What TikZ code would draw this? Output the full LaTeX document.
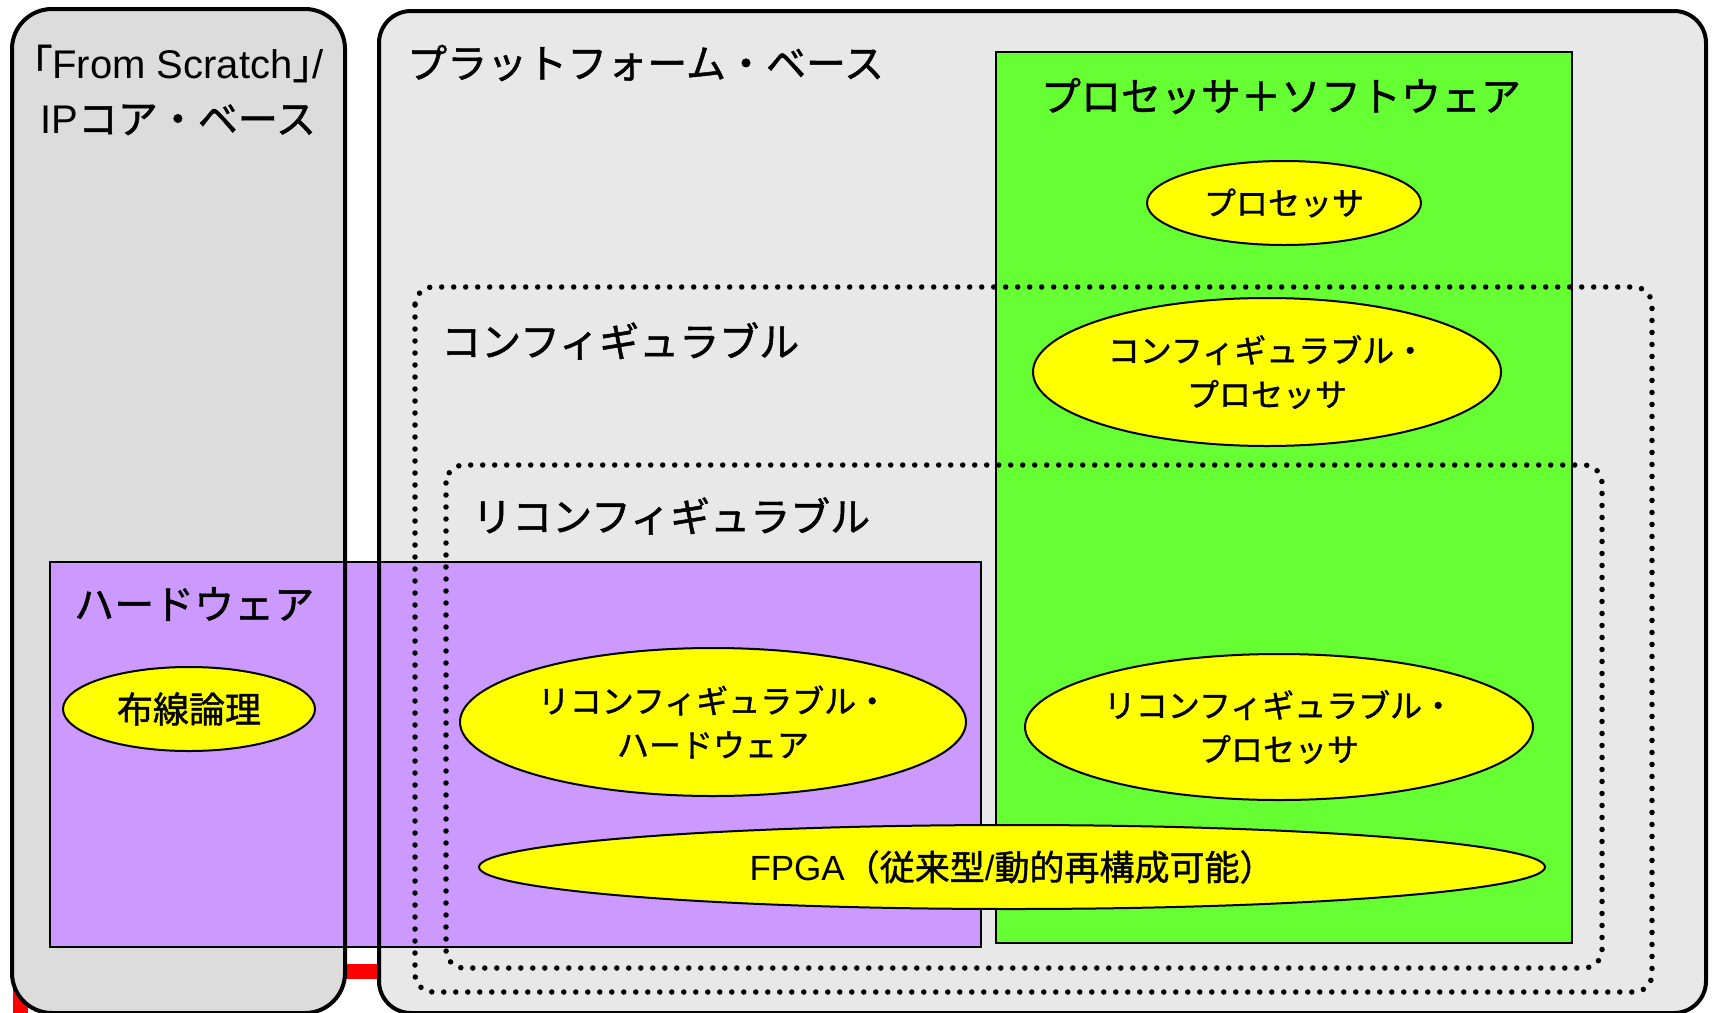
\documentclass[tikz,border=0pt]{standalone}
\usepackage{fontspec}
\setmainfont{Noto Sans CJK JP}[FakeBold=1.2]
\newfontfamily\lat{Liberation Sans}
\usetikzlibrary{shapes.geometric}
\definecolor{gl}{HTML}{DCDCDC}
\definecolor{gr}{HTML}{E8E8E8}
\definecolor{pu}{HTML}{CC99FF}
\definecolor{gn}{HTML}{66FF33}
\definecolor{ye}{HTML}{FFFF00}
\begin{document}
\begin{tikzpicture}[x=1pt,y=-1pt,
  big/.style={font=\fontsize{40}{55}\selectfont, inner sep=0pt},
  ell/.style={ellipse, draw=black, line width=2pt, fill=ye, inner sep=0pt,
    font=\fontsize{32}{44}\selectfont, align=center},
  dots/.style={line width=5.5pt, line cap=round, dash pattern=on 0pt off 12pt, rounded corners=18pt},
  frame/.style={line width=4pt},
  rect/.style={draw=black, line width=2pt}
]
\useasboundingbox[fill=white] (0,0) rectangle (1713,1012);
\clip (0,0) rectangle (1713,1012);
% red frame behind everything
\draw[red, line width=15pt] (20,1060) -- (20,971) -- (1690,971);
% grey fills
\path[fill=gl, rounded corners=40pt] (12,9) rectangle (345,1013);
\path[fill=gr, rounded corners=32pt] (379,11) rectangle (1706,1013);
% hardware and processor areas
\path[rect, fill=pu] (50,562) rectangle (981,947);
\path[rect, fill=gn] (996,52) rectangle (1572,943);
% grey borders
\draw[frame, rounded corners=40pt] (12,9) rectangle (345,1013);
\draw[frame, rounded corners=32pt] (379,11) rectangle (1706,1013);
% dotted regions
\draw[dots] (415,287) rectangle (1652,992);
\draw[dots] (446,465) rectangle (1602,968);
% titles
\node[big, align=center] (scratch) at (178,90) {｢{\lat From Scratch}｣{\lat /}\\{\lat IP}コア・ベース};
\node[big, anchor=west] (platform) at (407,63) {プラットフォーム・ベース};
\node[big] (procsw) at (1281,96) {プロセッサ＋ソフトウェア};
\node[big, anchor=west] (config) at (441,341) {コンフィギュラブル};
\node[big, anchor=west] (reconfig) at (472,516) {リコンフィギュラブル};
\node[big, anchor=west] (hw) at (74,604) {ハードウェア};
% ellipses
\node[ell, minimum width=274pt, minimum height=84pt] (proc) at (1284,203) {プロセッサ};
\node[ell, minimum width=468pt, minimum height=148pt] (cproc) at (1267,372) {コンフィギュラブル・\\プロセッサ};
\node[ell, minimum width=506pt, minimum height=148pt] (rhw) at (713,722) {リコンフィギュラブル・\\ハードウェア};
\node[ell, minimum width=508pt, minimum height=146pt] (rproc) at (1279,727) {リコンフィギュラブル・\\プロセッサ};
\node[ell, minimum width=1066pt, minimum height=84pt, font=\fontsize{35}{44}\selectfont] (fpga) at (1012,867) {{\lat FPGA}（従来型{\lat /}動的再構成可能）};
\node[ell, minimum width=252pt, minimum height=84pt, font=\fontsize{36}{44}\selectfont] (wired) at (189,709) {布線論理};
\end{tikzpicture}
\end{document}
